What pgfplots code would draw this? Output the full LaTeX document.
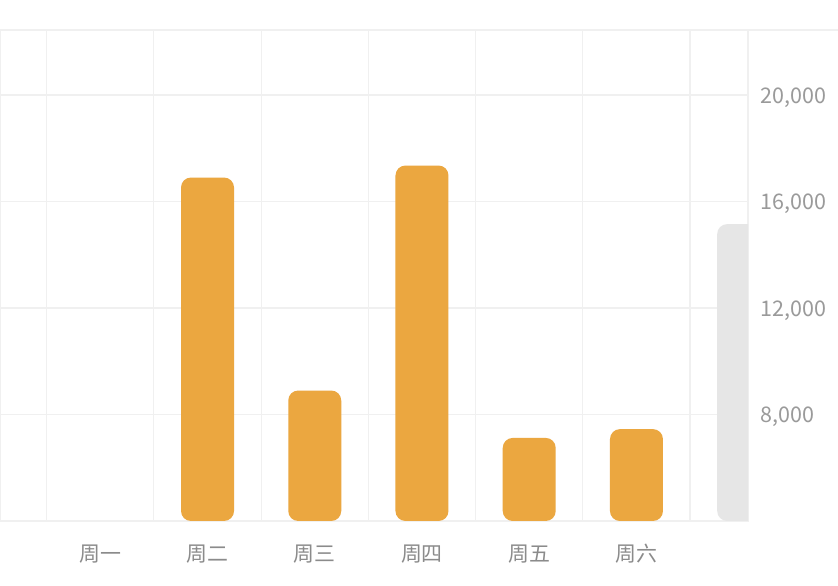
\documentclass[border=0pt]{standalone}
\usepackage{fontspec}
\setmainfont{Noto Sans CJK SC}
\usepackage{pgfplots}
\pgfplotsset{compat=1.18}
\definecolor{barorange}{HTML}{EBA740}
\definecolor{bargrey}{HTML}{E6E6E6}
\definecolor{gridc}{HTML}{F0F0F0}
\definecolor{labc}{HTML}{9A9A9A}

\begin{document}
\begin{tikzpicture}
\path[use as bounding box, fill=white] (0,0) rectangle (419bp,293bp);
\draw[gridc, line width=0.6bp] (0,278bp) -- (419bp,278bp);
\begin{axis}[
  at={(0bp,32.5bp)}, anchor=south west,
  scale only axis,
  width=374bp, height=245.5bp,
  xmin=0.065, xmax=7.04,
  ymin=4000, ymax=22440,
  xtick={1,2,3,4,5,6},
  xticklabels={周一,周二,周三,周四,周五,周六},
  minor xtick={0.5,1.5,2.5,3.5,4.5,5.5,6.5},
  ytick={8000,12000,16000,20000},
  scaled y ticks=false,
  yticklabel pos=right,
  ymajorgrids=true, xminorgrids=true,
  major grid style={gridc, line width=0.6bp},
  minor grid style={gridc, line width=0.6bp},
  major tick length=0pt, minor tick length=0pt,
  axis line style={gridc, line width=0.6bp},
  /pgf/number format/.cd, 1000 sep={,}, assume math mode=true,
  /pgfplots/.cd,
  xticklabel style={font=\fontsize{10.5}{12}\selectfont, text=labc!90!black, anchor=center, inner sep=0pt, yshift=-16.5bp},
  yticklabel style={font=\fontsize{10.8}{12}\selectfont, text=labc, anchor=west, inner sep=0pt, xshift=6bp, yshift=-1.2bp},
]
\addplot[ybar, bar width=26.5bp, bar shift=0pt, fill=barorange, draw=none, rounded corners=5bp]
  coordinates {(2,16900) (3,8900) (4,17350) (5,7120) (6,7450)};
\addplot[ybar, bar width=26.5bp, bar shift=0pt, fill=bargrey, draw=none, rounded corners=5bp]
  coordinates {(7,15150)};
\end{axis}
\end{tikzpicture}
\end{document}
